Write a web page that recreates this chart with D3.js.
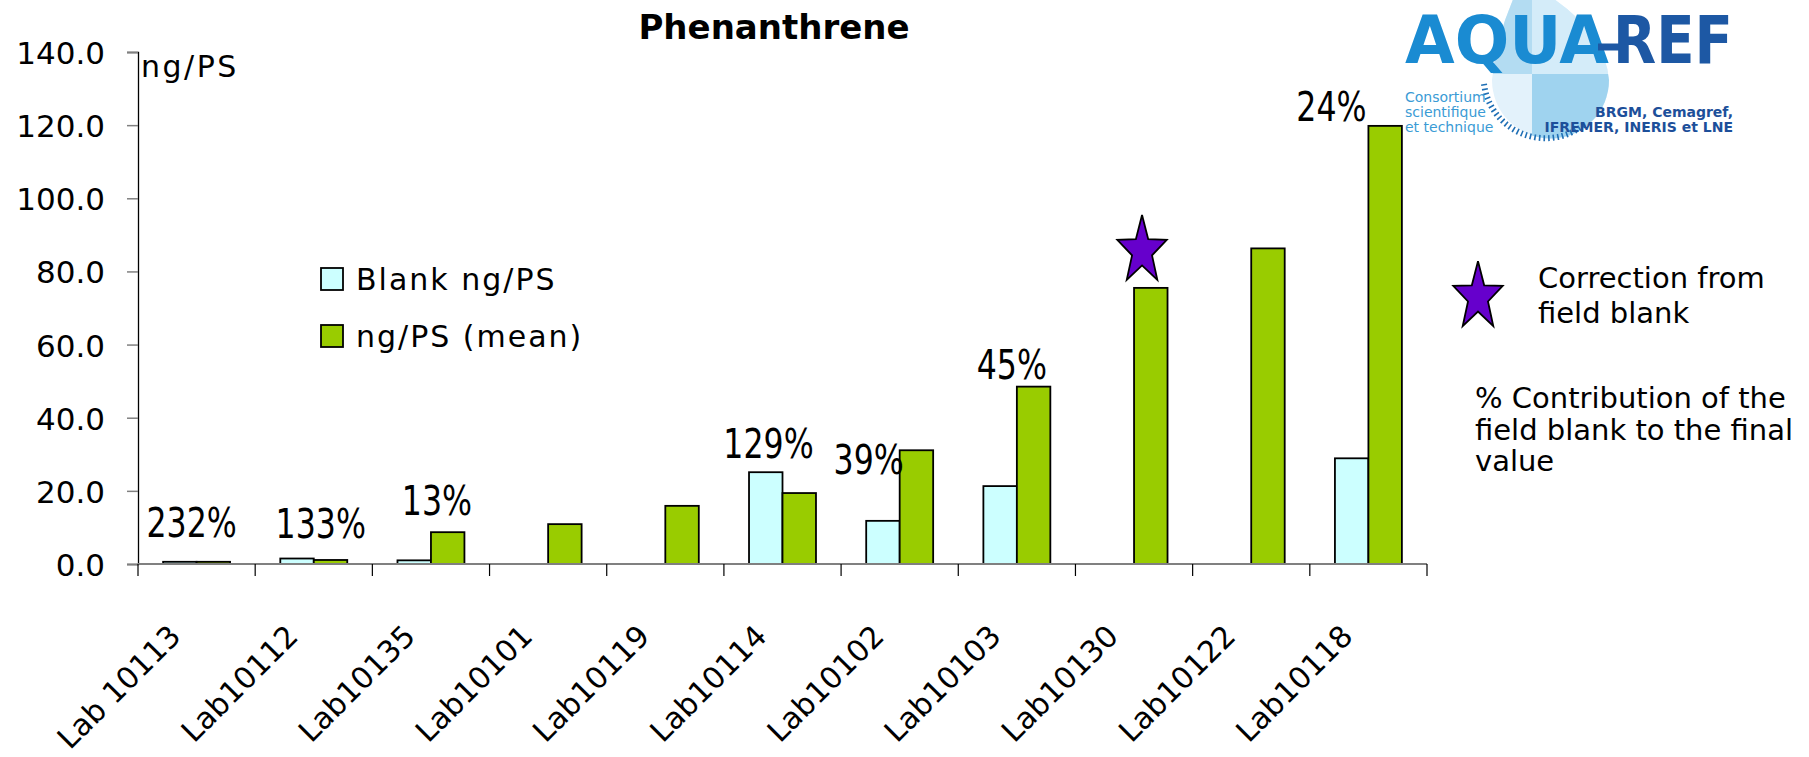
<!DOCTYPE html>
<html>
<head>
<meta charset="utf-8">
<script src="https://cdn.jsdelivr.net/npm/d3@7"></script>
<style>
  html, body { margin: 0; padding: 0; background: #fff; }
  svg { display: block; }
  text { font-family: "DejaVu Sans", sans-serif; }
</style>
</head>
<body>
<svg id="chart" width="1809" height="757"></svg>
<script>
// Phenanthrene amounts per passive sampler (ng/PS), per laboratory
const labs = ["Lab 10113", "Lab10112", "Lab10135", "Lab10101", "Lab10119", "Lab10114",
              "Lab10102", "Lab10103", "Lab10130", "Lab10122", "Lab10118"];
const blankValues = [0.6, 1.5, 1.0, null, null, 25.1, 11.8, 21.3, null, null, 28.9];
const meanValues  = [0.6, 1.1, 8.7, 10.9, 15.9, 19.4, 31.1, 48.5, 75.5, 86.3, 119.8];
const seriesNames = ["Blank ng/PS", "ng/PS (mean)"];
const yTickValues = [0, 20, 40, 60, 80, 100, 120, 140];

// Contribution of the field blank to the final value
const pctLabs  = ["Lab 10113", "Lab10112", "Lab10135", "Lab10114", "Lab10102", "Lab10103", "Lab10118"];
const pctTexts = ["232%", "133%", "13%", "129%", "39%", "45%", "24%"];

// Labs whose value was corrected from the field blank
const correctedLabs = ["Lab10130"];

const svg = d3.select("#chart");
const colors = { blank: "#CCFFFF", mean: "#99CC00", star: "#6600CC" };

const x = d3.scaleBand().domain(labs).range([138, 1427]).paddingInner(0).paddingOuter(0);
const y = d3.scaleLinear().domain([0, 140]).range([564, 52]);
const barW = x.bandwidth() / 3.5;
const xs = d3.scaleBand().domain(["blank", "mean"])
  .range([(x.bandwidth() - 2 * barW) / 2, (x.bandwidth() + 2 * barW) / 2]);

// Title
svg.append("text").attr("x", 774).attr("y", 39).attr("text-anchor", "middle")
  .attr("font-size", 34).attr("font-weight", "bold").text("Phenanthrene");

// Y axis
const yAxis = svg.append("g").attr("transform", "translate(138,0)")
  .call(d3.axisLeft(y).tickValues(yTickValues).tickFormat(d3.format(".1f"))
        .tickSize(11).tickPadding(22));
yAxis.select(".domain").attr("stroke", "#000").attr("stroke-width", 1.3);
yAxis.selectAll(".tick line").attr("stroke", "#808080").attr("stroke-width", 1.5);
yAxis.selectAll(".tick text").attr("font-family", "DejaVu Sans").attr("font-size", 31)
  .attr("fill", "#000").attr("dy", "0.37em");

svg.append("text").attr("x", 141).attr("y", 77).attr("font-size", 30)
  .attr("letter-spacing", 2.5).text("ng/PS");

// Bars
const rows = labs.map((lab, i) => ({ lab, blank: blankValues[i], mean: meanValues[i] }));
const groups = svg.append("g").selectAll("g").data(rows).join("g")
  .attr("transform", d => `translate(${x(d.lab)},0)`);
groups.selectAll("rect")
  .data(d => ["blank", "mean"].filter(k => d[k] != null).map(k => ({ key: k, value: d[k] })))
  .join("rect")
  .attr("x", d => xs(d.key)).attr("width", xs.bandwidth())
  .attr("y", d => y(d.value)).attr("height", d => y(0) - y(d.value))
  .attr("fill", d => colors[d.key]).attr("stroke", "#000").attr("stroke-width", 1.8);

// X axis with ticks between categories
const xAxis = svg.append("g");
xAxis.append("line").attr("x1", x.range()[0]).attr("x2", x.range()[1])
  .attr("y1", y(0)).attr("y2", y(0)).attr("stroke", "#808080").attr("stroke-width", 1.8);
const bounds = labs.map(l => x(l)).concat([x.range()[1]]);
xAxis.selectAll("line.tick").data(bounds).join("line").attr("class", "tick")
  .attr("x1", d => d).attr("x2", d => d).attr("y1", y(0)).attr("y2", y(0) + 12)
  .attr("stroke", "#000").attr("stroke-width", 1.2);
xAxis.selectAll("text").data(labs).join("text")
  .attr("transform", d => `translate(${x(d) + x.bandwidth() / 2 - 14},638) rotate(-45)`)
  .attr("text-anchor", "end").attr("font-size", 30).text(d => d);

// Percentage labels placed above each pair of bars
const pctNudge = {
  "Lab 10113": [-5, -25], "Lab10112": [7, -21], "Lab10135": [6, -17], "Lab10114": [-14, -14],
  "Lab10102": [-31, 24], "Lab10103": [-5, -8], "Lab10118": [-37, -5]
};
svg.append("g").selectAll("text").data(pctLabs.map((lab, i) => ({ lab, text: pctTexts[i] })))
  .join("text")
  .attr("transform", d => {
    const i = labs.indexOf(d.lab);
    const top = d3.max([blankValues[i], meanValues[i]]);
    const [dx, dy] = pctNudge[d.lab];
    return `translate(${x(d.lab) + x.bandwidth() / 2 + dx},${y(top) + dy}) scale(0.79,1)`;
  })
  .attr("text-anchor", "middle").attr("font-size", 40).text(d => d.text);

// Star marker
const starPath = (() => {
  const pts = [];
  for (let k = 0; k < 10; k++) {
    const r = k % 2 === 0 ? 26 : 10.5;
    const a = -Math.PI / 2 + k * Math.PI / 5;
    pts.push([r * Math.cos(a), r * Math.sin(a) * 1.38]);
  }
  return "M" + pts.map(p => p.join(",")).join("L") + "Z";
})();
svg.append("g").selectAll("path").data(correctedLabs).join("path")
  .attr("d", starPath)
  .attr("transform", d => {
    const i = labs.indexOf(d);
    return `translate(${x(d) + x.bandwidth() / 2 + 8},${y(meanValues[i]) - 37})`;
  })
  .attr("fill", colors.star).attr("stroke", "#000").attr("stroke-width", 1.8);

// Series legend
const legend = svg.append("g").selectAll("g").data(seriesNames).join("g")
  .attr("transform", (d, i) => `translate(321,${268 + i * 57})`);
legend.append("rect").attr("width", 22).attr("height", 22)
  .attr("fill", (d, i) => i === 0 ? colors.blank : colors.mean)
  .attr("stroke", "#000").attr("stroke-width", 1.8);
legend.append("text").attr("x", 35).attr("y", 22).attr("font-size", 30)
  .attr("letter-spacing", 2).text(d => d);

// Marker legend
svg.append("path").attr("d", starPath).attr("transform", "translate(1478,297)")
  .attr("fill", colors.star).attr("stroke", "#000").attr("stroke-width", 1.8);
const note = svg.append("g").attr("font-size", 29);
note.append("text").attr("x", 1538).attr("y", 288).text("Correction from");
note.append("text").attr("x", 1538).attr("y", 323).text("field blank");
note.append("text").attr("x", 1475).attr("y", 408).text("% Contribution of the");
note.append("text").attr("x", 1475).attr("y", 440).text("field blank to the final");
note.append("text").attr("x", 1475).attr("y", 471).text("value");

// AQUAREF logo
const logo = svg.append("g");
const defs = svg.append("defs");
const dropD = "M1522,-20 Q1604,22 1609,80 A58,58 0 1,1 1492,80 Q1496,32 1522,-20 Z";
defs.append("clipPath").attr("id", "drop").append("path").attr("d", dropD);
const dropG = logo.append("g").attr("clip-path", "url(#drop)");
dropG.append("rect").attr("x", 1480).attr("y", -30).attr("width", 140).attr("height", 180).attr("fill", "#e3f2fb");
dropG.append("rect").attr("x", 1480).attr("y", -30).attr("width", 52).attr("height", 104).attr("fill", "#b3dcf2");
dropG.append("rect").attr("x", 1532).attr("y", 74).attr("width", 90).attr("height", 80).attr("fill", "#9fd3ef");
dropG.append("rect").attr("x", 1532).attr("y", -30).attr("width", 90).attr("height", 104).attr("fill", "#d4ecf9");
logo.append("path")
  .attr("d", "M1484,84 A62,62 0 0,0 1585,124")
  .attr("fill", "none").attr("stroke", "#1f6fb5").attr("stroke-width", 6).attr("stroke-dasharray", "1.6 3");
logo.append("text").attr("x", 1405).attr("y", 63).attr("font-family", "Roboto, sans-serif")
  .attr("font-weight", 700).attr("font-size", 66).attr("fill", "#1a8bd2")
  .attr("textLength", 204).attr("lengthAdjust", "spacingAndGlyphs").text("AQUA");
logo.append("line").attr("x1", 1598).attr("x2", 1622).attr("y1", 47).attr("y2", 47)
  .attr("stroke", "#1d58a4").attr("stroke-width", 7);
logo.append("text").attr("x", 1733).attr("y", 63).attr("text-anchor", "end")
  .attr("font-family", "Roboto, sans-serif").attr("font-weight", 700).attr("font-size", 66)
  .attr("fill", "#1d58a4").attr("textLength", 120).attr("lengthAdjust", "spacingAndGlyphs").text("REF");
const small = logo.append("g").attr("font-family", "Roboto, sans-serif").attr("font-size", 14);
[["Consortium", 102], ["scientifique", 117], ["et technique", 132]].forEach(([t, yy]) =>
  small.append("text").attr("x", 1405).attr("y", yy).attr("fill", "#3a9bd5").text(t));
[["BRGM, Cemagref,", 117], ["IFREMER, INERIS et LNE", 132]].forEach(([t, yy]) =>
  small.append("text").attr("x", 1733).attr("y", yy).attr("text-anchor", "end")
    .attr("font-weight", 700).attr("fill", "#1d4f9a").text(t));
</script>
</body>
</html>
